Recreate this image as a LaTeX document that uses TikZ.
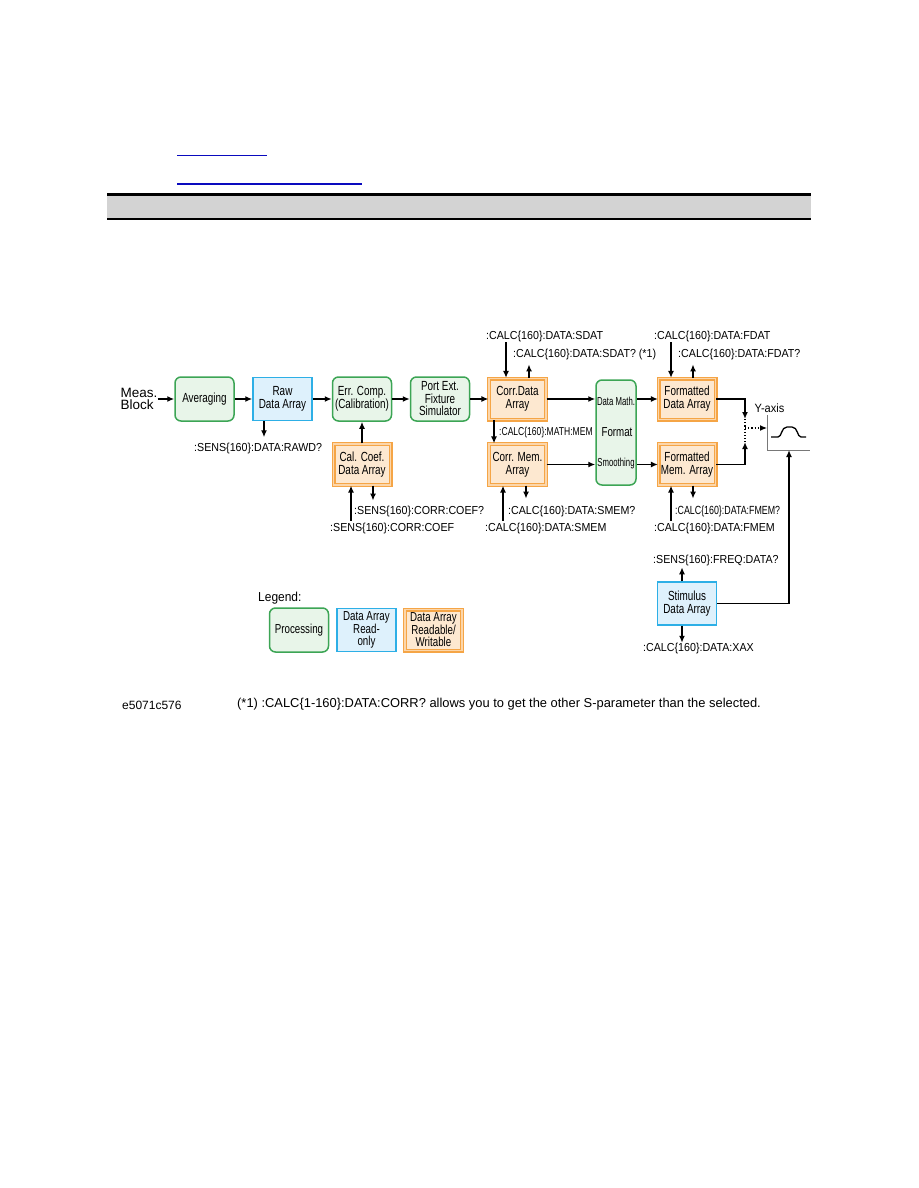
\documentclass[tikz,border=0pt]{standalone}
\usepackage{fontspec}
\setmainfont{Liberation Sans}
\newfontfamily\narrowfont[FakeStretch=0.75]{Liberation Sans}
\newfontfamily\narrowerfont[FakeStretch=0.67]{Liberation Sans}
\newfontfamily\cmdfont[FakeStretch=0.92]{Liberation Sans}
\usetikzlibrary{arrows.meta}
\definecolor{procgreen}{RGB}{60,165,85}
\definecolor{procfill}{RGB}{232,245,233}
\definecolor{readblue}{RGB}{45,175,230}
\definecolor{readfill}{RGB}{222,241,252}
\definecolor{rworange}{RGB}{245,165,70}
\definecolor{rwmid}{RGB}{252,214,170}
\definecolor{rwfill}{RGB}{253,232,208}
\definecolor{linkblue}{RGB}{10,10,190}
\definecolor{headgray}{RGB}{211,211,211}
\definecolor{axisgray}{RGB}{120,120,120}
\tikzset{
  boxtext/.style={align=center, inner sep=1pt, font=\narrowfont\fontsize{13.2}{13}\selectfont},
  procbox/.style={boxtext, draw=procgreen, fill=procfill, line width=1.5pt,
    rounded corners=6pt, minimum width=59pt, minimum height=44pt},
  readbox/.style={boxtext, draw=readblue, fill=readfill, line width=1.5pt,
    minimum width=59pt, minimum height=43pt},
  rwbox/.style={boxtext, draw=rworange, double=rwmid, double distance=1.6pt,
    line width=1.2pt, fill=rwfill, minimum width=57pt, minimum height=41pt},
  cmd/.style={anchor=west, inner sep=0pt, font=\cmdfont\fontsize{11.6}{12}\selectfont},
  smallcmd/.style={anchor=west, inner sep=0pt, font=\narrowfont\fontsize{11.4}{12}\selectfont},
  flow/.style={->, line width=1.6pt},
  legendtext/.style={font=\narrowfont\fontsize{13}{12.5}\selectfont},
}
\begin{document}
\begin{tikzpicture}[x=1pt, y=-1pt, >={Latex[length=7pt,width=6pt]}]
\useasboundingbox (0,0) rectangle (918,1188);
% Links and header bar
\draw[linkblue, line width=1pt] (177,155) -- (267,155);
\draw[linkblue, line width=2pt] (177,184) -- (362,184);
\fill[headgray] (107,195) rectangle (811,218);
\draw[line width=3pt] (107,194) -- (811,194);
\draw[line width=2pt] (107,219) -- (811,219);
% Measurement chain
\node[align=left, inner sep=0pt, font=\fontsize{13.5}{12.5}\selectfont] (meas) at (139,399) {Meas.\\Block};
\node[procbox] (avg) at (204.5,399) {Averaging};
\node[readbox] (raw) at (282.5,399) {Raw\\Data Array};
\node[procbox] (err) at (362,399) {Err. Comp.\\(Calibration)};
\node[procbox, font=\narrowfont\fontsize{13.2}{12.5}\selectfont] (port) at (440,399) {Port Ext.\\Fixture\\Simulator};
\node[rwbox] (corr) at (517.5,399) {Corr.Data\\Array};
\node[rwbox] (cmem) at (517.5,464.5) {Corr. Mem.\\Array};
\node[rwbox] (calcoef) at (362,464.5) {Cal. Coef.\\Data Array};
\node[procbox, minimum width=40pt, minimum height=105pt] (proc) at (616,432.5) {};
\node[font=\narrowerfont\fontsize{11.6}{12}\selectfont] (dmath) at (616,401) {Data Math.};
\node[font=\narrowfont\fontsize{13}{12}\selectfont] (fmt) at (617,432) {Format};
\node[font=\narrowerfont\fontsize{11.6}{12}\selectfont] (smooth) at (616,463) {Smoothing};
\node[rwbox] (fdat) at (687,399) {Formatted\\Data Array};
\node[rwbox] (fmem) at (687,464.5) {Formatted\\Mem. Array};
\node[readbox] (stim) at (687,603.5) {Stimulus\\Data Array};
\draw[flow] (meas.east) -- (avg.west);
\draw[flow] (avg.east) -- (raw.west);
\draw[flow] (raw.east) -- (err.west);
\draw[flow] (err.east) -- (port.west);
\draw[flow] (port.east) -- (corr.west);
\draw[flow] (corr.east) -- (corr.east -| proc.west);
\draw[flow] (cmem.east) -- (cmem.east -| proc.west);
\draw[flow] (proc.east |- fdat.west) -- (fdat.west);
\draw[flow] (proc.east |- fmem.west) -- (fmem.west);
\draw[flow] (calcoef.north) -- (err.south);
\draw[flow] ([xshift=-23.5pt]corr.south) -- ([xshift=-23.5pt]cmem.north);
% SCPI commands
\node[cmd] (rawd) at (194,448) {:SENS\{160\}:DATA:RAWD?};
\node[cmd] (coefq) at (354,511) {:SENS\{160\}:CORR:COEF?};
\node[cmd] (coefset) at (330,528) {:SENS\{160\}:CORR:COEF};
\node[cmd] (sdat) at (486,336) {:CALC\{160\}:DATA:SDAT};
\node[cmd] (sdatq) at (513,354) {:CALC\{160\}:DATA:SDAT? (*1)};
\node[smallcmd] (mathmem) at (499,433) {:CALC\{160\}:MATH:MEM};
\node[cmd] (smemq) at (508,511) {:CALC\{160\}:DATA:SMEM?};
\node[cmd] (smem) at (485,528) {:CALC\{160\}:DATA:SMEM};
\node[cmd] (fdatset) at (654,336) {:CALC\{160\}:DATA:FDAT};
\node[cmd] (fdatq) at (678,354) {:CALC\{160\}:DATA:FDAT?};
\node[smallcmd, font=\narrowfont\fontsize{11.8}{12}\selectfont] (fmemq) at (675,511) {:CALC\{160\}:DATA:FMEM?};
\node[cmd] (fmemset) at (654,528) {:CALC\{160\}:DATA:FMEM};
\node[cmd] (freq) at (653,560) {:SENS\{160\}:FREQ:DATA?};
\node[cmd] (xax) at (643,648) {:CALC\{160\}:DATA:XAX};
\draw[flow] ([xshift=-18.5pt]raw.south) -- ([xshift=-18.5pt,yshift=-16pt]raw.south);
\draw[flow] ([xshift=-11pt,yshift=-35pt]calcoef.south) -- ([xshift=-11pt]calcoef.south);
\draw[flow] ([xshift=11pt]calcoef.south) -- ([xshift=11pt,yshift=-15pt]calcoef.south);
\draw[flow] ([xshift=-11.5pt,yshift=35.5pt]corr.north) -- ([xshift=-11.5pt]corr.north);
\draw[flow] ([xshift=11.5pt]corr.north) -- ([xshift=11.5pt,yshift=13.5pt]corr.north);
\draw[flow] ([xshift=-14.5pt,yshift=-35pt]cmem.south) -- ([xshift=-14.5pt]cmem.south);
\draw[flow] ([xshift=8.5pt]cmem.south) -- ([xshift=8.5pt,yshift=-13pt]cmem.south);
\draw[flow] ([xshift=-16pt,yshift=35.5pt]fdat.north) -- ([xshift=-16pt]fdat.north);
\draw[flow] ([xshift=6pt]fdat.north) -- ([xshift=6pt,yshift=13.5pt]fdat.north);
\draw[flow] ([xshift=-16pt,yshift=-35pt]fmem.south) -- ([xshift=-16pt]fmem.south);
\draw[flow] ([xshift=6pt]fmem.south) -- ([xshift=6pt,yshift=-13pt]fmem.south);
\draw[flow] ([xshift=-5pt]stim.north) -- ([xshift=-5pt,yshift=14pt]stim.north);
\draw[flow] ([xshift=-5pt]stim.south) -- ([xshift=-5pt,yshift=-17pt]stim.south);
% Y-axis display
\coordinate (jtop) at (745,419);
\coordinate (jbot) at (745,442);
\coordinate (jmid) at (745,428);
\coordinate (origin) at (767,450);
\coordinate (plotin) at (789,450);
\node[inner sep=0pt, font=\cmdfont\fontsize{12}{12}\selectfont] (yaxis) at (769.5,408) {Y-axis};
\draw[axisgray, line width=1pt] (767,415) -- (origin) -- (810,450);
\draw[line width=1.3pt] (771,437) -- (778,437) .. controls (782,437) and (781,427) .. (787,427)
  -- (792,427) .. controls (798,427) and (797,437) .. (801,437) -- (806,437);
\draw[flow] (fdat.east) -| (jtop);
\draw[flow] (fmem.east) -| (jbot);
\draw[line width=1.2pt, dotted] (jtop) -- (jbot);
\draw[->, line width=1.2pt, dotted] (jmid) -- (jmid -| origin);
\draw[flow] (stim.east) -| (plotin);
% Legend
\node[anchor=west, inner sep=0pt, font=\cmdfont\fontsize{13}{14}\selectfont] (legend) at (258,598) {Legend:};
\node[procbox, legendtext] (legproc) at (299,630) {Processing};
\node[readbox, legendtext] (legread) at (366.5,630) {Data Array\\Read-\\only};
\node[rwbox, legendtext] (legrw) at (433.5,630) {Data Array\\Readable/\\Writable};
% Footer
\node[anchor=west, inner sep=0pt, font=\fontsize{12}{14}\selectfont] (figid) at (122,705) {e5071c576};
\node[anchor=west, inner sep=0pt, font=\fontsize{12.9}{14}\selectfont] (note) at (237,704)
  {(*1) :CALC\{1-160\}:DATA:CORR? allows you to get the other S-parameter than the selected.};
\end{tikzpicture}
\end{document}
